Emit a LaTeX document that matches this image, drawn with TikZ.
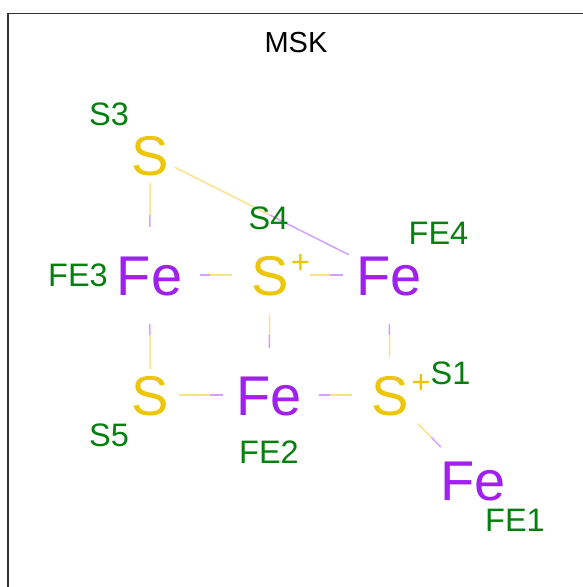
\documentclass[tikz,border=0pt]{standalone}
\usepackage{fontspec}
\setmainfont{Liberation Sans}
\usetikzlibrary{calc}
\definecolor{feC}{RGB}{160,32,240}
\definecolor{sC}{RGB}{235,198,10}
\definecolor{lblC}{RGB}{5,128,15}
\definecolor{feB}{RGB}{212,160,255}
\definecolor{sB}{RGB}{247,226,140}
\tikzset{
  atomfe/.style={inner sep=0pt,text height=40pt,text depth=0pt,text=feC,font=\fontsize{56}{60}\selectfont},
  atoms/.style={inner sep=0pt,text height=40pt,text depth=0pt,text=sC,font=\fontsize{56}{60}\selectfont},
  charge/.style={inner sep=0pt,text=sC,font=\fontsize{33}{35}\selectfont},
  lbl/.style={inner sep=0pt,text height=22pt,text depth=0pt,text=lblC,font=\fontsize{32.5}{34}\selectfont},
  ttl/.style={inner sep=0pt,text height=22pt,text depth=0pt,text=black,font=\fontsize{29}{32}\selectfont},
  bondline/.style={line width=1.5pt}
}
% \bond{from}{to}{gap at from}{gap at to}{colour at from}{colour at to}
\newcommand{\bond}[6]{%
  \draw[bondline,#5] ($(#1)!#3pt!(#2)$) -- ($(#1)!.5!(#2)$);
  \draw[bondline,#6] ($(#1)!.5!(#2)$) -- ($(#2)!#4pt!(#1)$);
}
\begin{document}
\begin{tikzpicture}[x=1pt,y=-1pt]
\useasboundingbox (0,0) rectangle (583,587);
\draw[line width=1.2pt,black!80] (583,13.5) -- (8,13.5) -- (8,587);
\node[atoms] (s3) at (150.5,155) {S};
\node[atomfe] (fe3) at (149.5,275) {Fe};
\node[atoms] (s4) at (270,275) {S};
\node[charge] (s4c) at (300.5,264) {+};
\node[atomfe] (fe4) at (389,275) {Fe};
\node[atoms] (s5) at (150.5,395) {S};
\node[atomfe] (fe2) at (269,395) {Fe};
\node[atoms] (s1) at (390,395) {S};
\node[charge] (s1c) at (421,384) {+};
\node[atomfe] (fe1) at (473,480) {Fe};
\bond{s3}{fe3}{28}{48}{sB}{feB}
\bond{s3}{fe4}{27.5}{45}{sB}{feB}
\bond{s4}{fe3}{38}{50}{sB}{feB}
\bond{s4}{fe4}{40}{46}{sB}{feB}
\bond{s4}{fe2}{40}{47}{sB}{feB}
\bond{s5}{fe3}{26}{49}{sB}{feB}
\bond{s5}{fe2}{28}{46}{sB}{feB}
\bond{s1}{fe2}{38}{50}{sB}{feB}
\bond{s1}{fe4}{38}{49}{sB}{feB}
\bond{s1}{fe1}{40}{46}{sB}{feB}
\node[lbl] (l1) at (109,114) {S3};
\node[lbl] (l2) at (268.5,218) {S4};
\node[lbl] (l3) at (438.5,233) {FE4};
\node[lbl] (l4) at (78,275) {FE3};
\node[lbl] (l5) at (450.5,373) {S1};
\node[lbl] (l6) at (109,435) {S5};
\node[lbl] (l7) at (269,452) {FE2};
\node[lbl] (l8) at (515,520) {FE1};
\node[ttl] (t) at (296,41) {MSK};
\end{tikzpicture}
\end{document}
